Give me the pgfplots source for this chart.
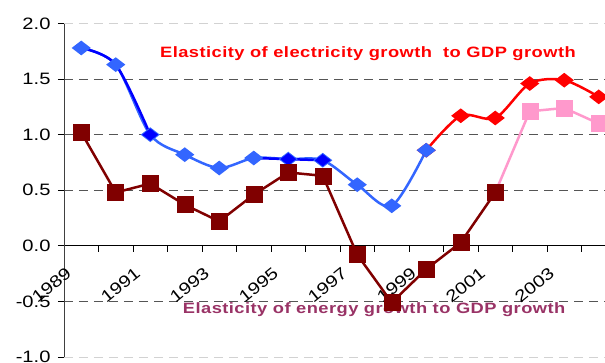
\documentclass[border=0pt]{standalone}
\usepackage{fontspec}
\setmainfont{Liberation Sans}[FakeStretch=1.22]
\usepackage{pgfplots}
\pgfplotsset{compat=1.18}
\definecolor{lblue}{HTML}{3366FF}
\definecolor{dblue}{HTML}{0000FF}
\definecolor{dred}{HTML}{800000}
\definecolor{pinkc}{HTML}{FF99CC}
\definecolor{elabel}{HTML}{993366}
\definecolor{gridc}{HTML}{555555}
\newcommand\tickfont{\fontsize{16.5}{18}\selectfont}
\newcommand\labfont{\fontsize{15}{17}\selectfont\bfseries\addfontfeature{LetterSpace=3}}
\begin{document}
\begin{tikzpicture}
\begin{axis}[
  scale only axis, width=552pt, height=333.5pt,
  xmin=-0.5, xmax=15.5, ymin=-1, ymax=2,
  axis x line=middle, axis y line=left, axis line style={-},
  x axis line style={black, line width=1pt},
  y axis line style={black!75, line width=0.8pt},
  hide obscured x ticks=false, hide obscured y ticks=false,
  xtick={-0.5,0.5,1.5,2.5,3.5,4.5,5.5,6.5,7.5,8.5,9.5,10.5,11.5,12.5,13.5,14.5,15.5},
  xticklabels={1989,,1991,,1993,,1995,,1997,,1999,,2001,,2003,,},
  xticklabel style={font=\tickfont, xshift=5pt, yshift=-19pt, rotate=39, anchor=east, inner sep=0pt},
  ytick={-0.5,0,0.5,1,1.5},
  extra y ticks={-1,2},
  extra y tick style={grid style={gray!35, dash pattern=on 9pt off 6pt, line width=0.9pt}},
  ymajorgrids, grid style={gridc, dash pattern=on 9pt off 6pt, line width=0.9pt},
  tick align=outside, major tick length=6pt,
  tick style={black, line width=0.8pt},
  /pgf/number format/assume math mode=true,
  yticklabel={\pgfmathprintnumber[fixed, fixed zerofill, precision=1]{\tick}},
  yticklabel style={font=\tickfont, xshift=-4pt},
  clip=false,
]
% electricity (red part)
\addplot[red, line width=2.5pt, smooth, tension=0.5, mark=diamond*, mark size=5.8pt,
  mark options={xscale=1.73, fill=red, draw=red}]
  coordinates {(10,0.86) (11,1.17) (12,1.15) (13,1.46) (14,1.49) (15,1.34)};
% electricity (blue part)
\addplot[lblue, line width=2.5pt, smooth, tension=0.5, mark=diamond*, mark size=5.8pt,
  mark options={xscale=1.73, fill=lblue, draw=lblue}]
  coordinates {(0,1.78) (1,1.63) (2,1.00) (3,0.82) (4,0.70) (5,0.79) (6,0.78) (7,0.77) (8,0.55) (9,0.36) (10,0.86)};
\addplot[dblue, line width=2.5pt, smooth, tension=0.5]
  coordinates {(0,1.78) (1,1.63) (2,1.00)};
\addplot[dblue, line width=2.5pt, smooth, tension=0.5]
  coordinates {(5,0.79) (6,0.78) (7,0.77)};
\addplot[only marks, mark=diamond*, mark size=5.8pt,
  mark options={xscale=1.73, fill=dblue, draw=dblue}]
  coordinates {(2,1.00) (6,0.78) (7,0.77)};
% energy (pink part)
\addplot[pinkc, line width=2.5pt, mark=square*, mark size=8pt,
  mark options={fill=pinkc, draw=pinkc, line width=0.5pt}]
  coordinates {(12,0.48) (13,1.21) (14,1.24) (15,1.10)};
% energy (dark red part)
\addplot[dred, line width=2.5pt, mark=square*, mark size=8pt,
  mark options={fill=dred, draw=dred, line width=0.5pt}]
  coordinates {(0,1.02) (1,0.48) (2,0.56) (3,0.37) (4,0.22) (5,0.46) (6,0.66) (7,0.63) (8,-0.08) (9,-0.51) (10,-0.21) (11,0.03) (12,0.48)};
\node[red, font=\labfont] at (axis cs:8.31,1.725) {Elasticity of electricity growth\ \ to GDP growth};
\node[elabel, font=\labfont] at (axis cs:8.49,-0.575) {Elasticity of energy growth to GDP growth};
\coordinate (bbA) at (axis cs:-0.5,-1);
\end{axis}
\pgfresetboundingbox
\path[use as bounding box] ([shift={(-64pt,-5pt)}]bbA) rectangle ([shift={(541pt,357pt)}]bbA);
\end{tikzpicture}
\end{document}
